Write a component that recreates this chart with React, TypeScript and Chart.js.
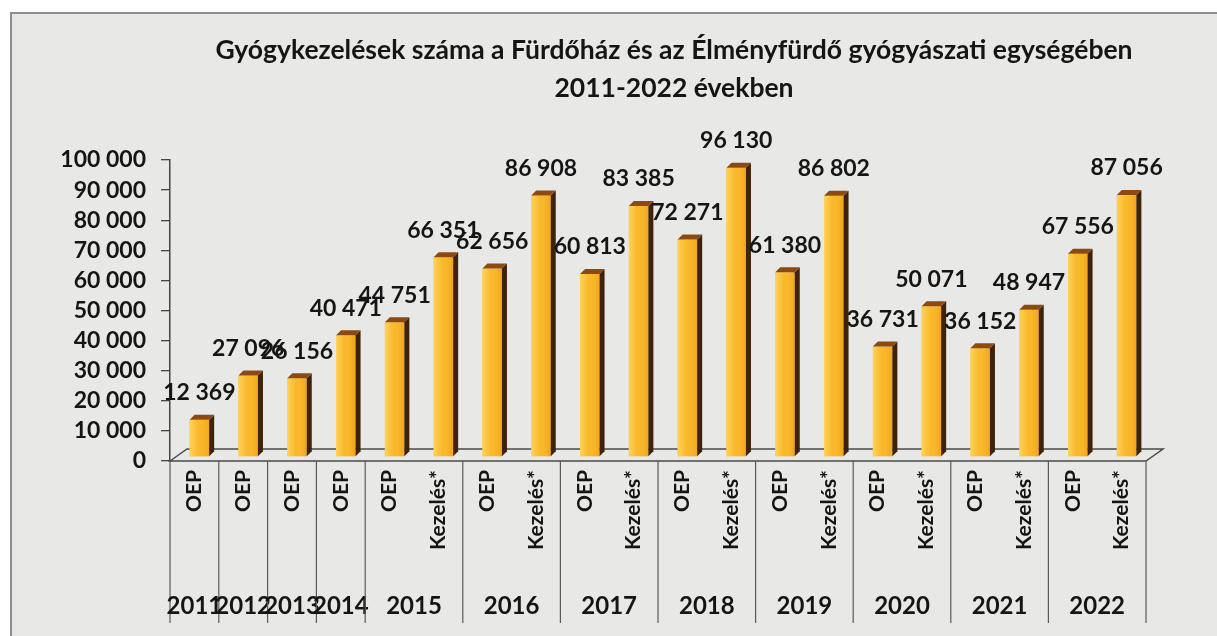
import React, { useEffect, useRef } from 'react';
import { Chart, registerables } from 'chart.js';

Chart.register(...registerables);

const titleLines = [
  'Gyógykezelések száma a Fürdőház és az Élményfürdő gyógyászati egységében',
  '2011-2022 években',
];

const years = [
  '2011', '2012', '2013', '2014', '2015', '2015', '2016', '2016', '2017', '2017',
  '2018', '2018', '2019', '2019', '2020', '2020', '2021', '2021', '2022', '2022',
];

const kinds = [
  'OEP', 'OEP', 'OEP', 'OEP', 'OEP', 'Kezelés*', 'OEP', 'Kezelés*', 'OEP', 'Kezelés*',
  'OEP', 'Kezelés*', 'OEP', 'Kezelés*', 'OEP', 'Kezelés*', 'OEP', 'Kezelés*', 'OEP', 'Kezelés*',
];

const values = [
  12369, 27096, 26156, 40471, 44751, 66351, 62656, 86908, 60813, 83385,
  72271, 96130, 61380, 86802, 36731, 50071, 36152, 48947, 67556, 87056,
];

const yMin = 0;
const yMax = 100000;
const yStep = 10000;

const FONT = 'Lato, "Open Sans", sans-serif';
const fmt = (n: number) => String(n).replace(/\B(?=(\d{3})+(?!\d))/g, ' ');

const BAR_DX = 5;
const BAR_DY = 4;
const SIDE = 5;
const FLOOR_DX = 17;
const FLOOR_DY = 12;

const threeD = {
  id: 'threeD',
  beforeDatasetsDraw(chart: any) {
    const { ctx, chartArea: a } = chart;
    ctx.save();
    ctx.strokeStyle = '#4a4a4a';
    ctx.lineWidth = 1.5;
    ctx.beginPath();
    ctx.moveTo(a.left, a.bottom);
    ctx.lineTo(a.left + FLOOR_DX, a.bottom - FLOOR_DY);
    ctx.lineTo(a.right + FLOOR_DX, a.bottom - FLOOR_DY);
    ctx.lineTo(a.right, a.bottom);
    ctx.closePath();
    ctx.stroke();
    ctx.restore();
    ctx.save();
    ctx.translate(BAR_DX, -BAR_DY);
  },
  afterDatasetsDraw(chart: any) {
    const ctx = chart.ctx;
    const meta = chart.getDatasetMeta(0);
    meta.data.forEach((el: any) => {
      const { x, y, base, width } = el.getProps(['x', 'y', 'base', 'width'], true);
      const l = x - width / 2;
      const r = x + width / 2;
      const g = ctx.createLinearGradient(l, 0, r, 0);
      g.addColorStop(0, 'rgba(255,224,110,0.7)');
      g.addColorStop(0.45, 'rgba(255,224,110,0.1)');
      g.addColorStop(1, 'rgba(230,140,10,0.35)');
      ctx.fillStyle = g;
      ctx.fillRect(l, y, width, base - y);
      // side face
      ctx.fillStyle = '#3e220a';
      ctx.beginPath();
      ctx.moveTo(r, y);
      ctx.lineTo(r + SIDE, y - SIDE);
      ctx.lineTo(r + SIDE, base - SIDE);
      ctx.lineTo(r, base);
      ctx.closePath();
      ctx.fill();
      // top face
      ctx.fillStyle = '#8c4a12';
      ctx.beginPath();
      ctx.moveTo(l, y);
      ctx.lineTo(l + SIDE, y - SIDE);
      ctx.lineTo(r + SIDE, y - SIDE);
      ctx.lineTo(r, y);
      ctx.closePath();
      ctx.fill();
    });
    ctx.restore();

    // data labels
    ctx.save();
    ctx.font = `bold 23px ${FONT}`;
    ctx.fillStyle = '#151515';
    ctx.textAlign = 'center';
    ctx.textBaseline = 'middle';
    meta.data.forEach((el: any, i: number) => {
      const { x, y } = el.getProps(['x', 'y'], true);
      ctx.fillText(fmt(values[i]), x + BAR_DX, y - BAR_DY - 27);
    });
    ctx.restore();
  },
  afterDraw(chart: any) {
    const { ctx, chartArea: a, scales } = chart;
    const xs = scales.x;
    const slot = xs.getPixelForValue(1) - xs.getPixelForValue(0);
    const lineBottom = 609;
    ctx.save();
    const groups: { year: string; start: number; end: number }[] = [];
    years.forEach((yr, i) => {
      const last = groups[groups.length - 1];
      if (last && last.year === yr) last.end = i;
      else groups.push({ year: yr, start: i, end: i });
    });
    ctx.strokeStyle = '#5a5a5a';
    ctx.lineWidth = 1.2;
    ctx.font = `bold 24px ${FONT}`;
    ctx.fillStyle = '#151515';
    ctx.textAlign = 'center';
    ctx.textBaseline = 'middle';
    groups.forEach((gr, gi) => {
      const left = xs.getPixelForValue(gr.start) - slot / 2;
      const right = xs.getPixelForValue(gr.end) + slot / 2;
      ctx.beginPath();
      ctx.moveTo(left, a.bottom);
      ctx.lineTo(left, lineBottom);
      ctx.stroke();
      if (gi === groups.length - 1) {
        ctx.beginPath();
        ctx.moveTo(right, a.bottom);
        ctx.lineTo(right, lineBottom);
        ctx.stroke();
      }
      ctx.fillText(gr.year, (left + right) / 2, 592);
    });
    // title
    ctx.font = `bold 26.5px ${FONT}`;
    ctx.fillStyle = '#151515';
    ctx.fillText(titleLines[0], 662, 36);
    ctx.fillText(titleLines[1], 662, 74);
    ctx.restore();
  },
};

export default function App() {
  const ref = useRef<HTMLCanvasElement | null>(null);

  useEffect(() => {
    if (!ref.current) return;
    const chart = new Chart(ref.current, {
      type: 'bar',
      data: {
        labels: kinds,
        datasets: [
          {
            data: values,
            backgroundColor: '#f9b323',
            borderWidth: 0,
            categoryPercentage: 1,
            barPercentage: 0.4,
            clip: false as any,
          },
        ],
      },
      options: {
        responsive: false,
        animation: false,
        devicePixelRatio: 1,
        layout: { padding: { top: 146, right: 71, left: 0, bottom: 0 } },
        plugins: {
          legend: { display: false },
          title: { display: false },
          tooltip: { enabled: false },
        },
        scales: {
          x: {
            grid: { display: false },
            border: { display: false },
            ticks: {
              autoSkip: false,
              minRotation: 90,
              maxRotation: 90,
              padding: 1,
              color: '#151515',
              font: { family: FONT, size: 21, weight: 'bold' },
            },
            afterFit(scale: any) {
              scale.height = 175;
            },
          },
          y: {
            min: yMin,
            max: yMax,
            grid: {
              drawOnChartArea: false,
              drawTicks: true,
              tickLength: 9,
              color: '#444',
              lineWidth: 1.3,
            },
            border: { display: true, color: '#444', width: 1.5 },
            ticks: {
              autoSkip: false,
              stepSize: yStep,
              padding: 15,
              color: '#151515',
              font: { family: FONT, size: 23, weight: 'bold', lineHeight: 1 },
              callback: (v: any) => fmt(Number(v)),
            },
            afterFit(scale: any) {
              scale.width = 158;
            },
          },
        },
      },
      plugins: [threeD],
    });
    return () => chart.destroy();
  }, []);

  return (
    <div
      style={{
        position: 'absolute',
        left: 0,
        top: 0,
        width: 1217,
        height: 636,
        background: '#ffffff',
        overflow: 'hidden',
      }}
    >
      <div
        style={{
          position: 'absolute',
          left: 10,
          top: 12,
          width: 1230,
          height: 650,
          borderLeft: '2px solid #8e8e8e',
          borderTop: '2px solid #8e8e8e',
          background: '#e8e8e6',
        }}
      >
        <canvas ref={ref} width={1205} height={622} style={{ display: 'block', width: 1205, height: 622 }} />
      </div>
    </div>
  );
}
